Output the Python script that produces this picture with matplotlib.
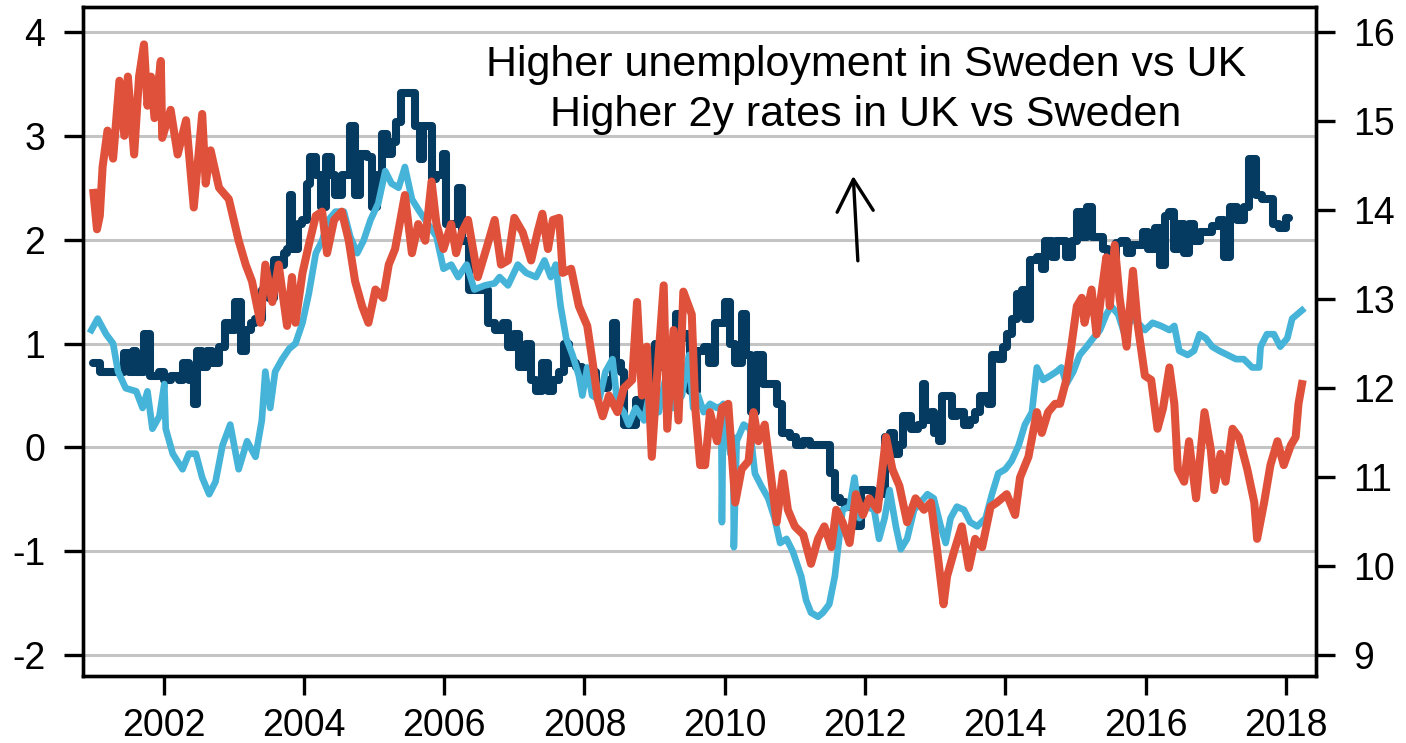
import matplotlib
matplotlib.use("Agg")
import matplotlib.pyplot as plt

# Unemployment gap (stepped, navy), left-axis units
navy_t = [2001.0, 2001.09, 2001.32, 2001.44, 2001.51, 2001.56, 2001.61, 2001.72, 2001.8, 2001.94,
          2002.01, 2002.1, 2002.22, 2002.27, 2002.36, 2002.43, 2002.48, 2002.55, 2002.62, 2002.69,
          2002.79, 2002.88, 2002.95, 2003.02, 2003.1, 2003.17, 2003.24, 2003.31, 2003.4, 2003.5,
          2003.57, 2003.64, 2003.71, 2003.76, 2003.8, 2003.83, 2003.91, 2003.98, 2004.05, 2004.09,
          2004.17, 2004.24, 2004.31, 2004.38, 2004.45, 2004.54, 2004.66, 2004.73, 2004.8, 2004.9,
          2004.97, 2005.04, 2005.11, 2005.18, 2005.25, 2005.32, 2005.39, 2005.54, 2005.58, 2005.65,
          2005.7, 2005.77, 2005.82, 2005.89, 2005.99, 2006.03, 2006.1, 2006.2, 2006.25, 2006.36,
          2006.53, 2006.62, 2006.72, 2006.84, 2006.91, 2007.0, 2007.07, 2007.17, 2007.24, 2007.31,
          2007.4, 2007.48, 2007.55, 2007.64, 2007.71, 2007.78, 2007.88, 2007.97, 2008.07, 2008.16,
          2008.26, 2008.33, 2008.4, 2008.45, 2008.52, 2008.56, 2008.68, 2008.73, 2008.82, 2008.92,
          2009.01, 2009.11, 2009.2, 2009.3, 2009.37, 2009.44, 2009.51, 2009.6, 2009.7, 2009.77,
          2009.86, 2009.93, 2010.0, 2010.08, 2010.15, 2010.24, 2010.31, 2010.38, 2010.45, 2010.55,
          2010.64, 2010.74, 2010.81, 2010.93, 2011.02, 2011.12, 2011.21, 2011.31, 2011.45, 2011.5,
          2011.57, 2011.64, 2011.71, 2011.78, 2011.87, 2011.94, 2012.04, 2012.11, 2012.2, 2012.28,
          2012.35, 2012.42, 2012.49, 2012.54, 2012.58, 2012.65, 2012.75, 2012.82, 2012.86, 2012.94,
          2012.98, 2013.05, 2013.1, 2013.17, 2013.24, 2013.31, 2013.41, 2013.5, 2013.57, 2013.64,
          2013.76, 2013.81, 2013.9, 2013.97, 2014.02, 2014.09, 2014.17, 2014.24, 2014.28, 2014.35,
          2014.45, 2014.52, 2014.57, 2014.66, 2014.73, 2014.83, 2014.87, 2014.95, 2015.02, 2015.09,
          2015.16, 2015.23, 2015.3, 2015.39, 2015.47, 2015.51, 2015.58, 2015.65, 2015.73, 2015.8,
          2015.89, 2015.96, 2016.03, 2016.13, 2016.2, 2016.27, 2016.34, 2016.41, 2016.48, 2016.55,
          2016.62, 2016.69, 2016.77, 2016.86, 2016.95, 2017.05, 2017.12, 2017.21, 2017.31, 2017.4,
          2017.47, 2017.57, 2017.66, 2017.76, 2017.81, 2017.9, 2018.0, 2018.05]
navy_v = [0.81, 0.73, 0.73, 0.91, 0.73, 0.93, 0.73, 1.09, 0.69, 0.73,
          0.65, 0.69, 0.65, 0.81, 0.65, 0.42, 0.93, 0.77, 0.93, 0.81,
          0.97, 1.2, 1.13, 1.4, 0.93, 1.13, 1.2, 1.24, 1.52, 1.44,
          1.8, 1.76, 1.87, 1.91, 2.43, 1.91, 2.15, 2.19, 2.54, 2.8,
          2.62, 2.31, 2.8, 2.62, 2.43, 2.62, 3.09, 2.43, 2.82, 2.8,
          2.31, 2.62, 3.02, 2.82, 2.94, 3.13, 3.41, 3.41, 3.09, 2.78,
          3.09, 3.09, 2.58, 2.62, 2.82, 2.15, 2.15, 2.5, 1.99, 1.52,
          1.52, 1.2, 1.13, 1.2, 0.97, 1.09, 0.77, 1.0, 0.65, 0.54,
          0.81, 0.54, 0.65, 0.73, 1.0, 0.81, 0.77, 0.65, 0.73, 0.57,
          0.57, 0.65, 1.2, 0.81, 0.73, 0.22, 0.22, 0.46, 0.34, 0.34,
          1.0, 0.77, 0.57, 1.28, 1.05, 1.09, 0.54, 0.93, 0.97, 0.81,
          1.2, 1.2, 1.4, 1.0, 0.81, 1.28, 0.89, 0.34, 0.89, 0.61,
          0.61, 0.42, 0.14, 0.1, 0.02, 0.06, 0.02, 0.02, 0.02, -0.25,
          -0.49, -0.53, -0.57, -0.53, -0.76, -0.41, -0.41, -0.49, -0.45, 0.1,
          0.14, -0.06, 0.02, 0.3, 0.3, 0.18, 0.22, 0.61, 0.26, 0.34,
          0.14, 0.06, 0.5, 0.5, 0.3, 0.34, 0.22, 0.26, 0.34, 0.5,
          0.42, 0.89, 0.85, 0.97, 1.09, 1.24, 1.48, 1.52, 1.24, 1.8,
          1.83, 1.72, 1.99, 1.83, 1.99, 1.99, 1.83, 1.99, 2.27, 2.03,
          2.31, 2.03, 2.03, 1.91, 1.76, 1.8, 1.97, 1.99, 1.87, 1.95,
          1.95, 2.07, 1.91, 2.11, 1.76, 2.23, 2.27, 1.91, 2.15, 1.87,
          2.15, 1.99, 2.07, 2.07, 2.13, 2.19, 1.83, 2.31, 2.19, 2.31,
          2.78, 2.43, 2.39, 2.39, 2.15, 2.11, 2.21, 2.21]

# Light blue series
blue_t = [2000.97, 2001.06, 2001.18, 2001.28, 2001.35, 2001.46, 2001.61, 2001.7, 2001.77, 2001.84,
          2001.94, 2002.01, 2002.03, 2002.13, 2002.27, 2002.36, 2002.46, 2002.55, 2002.65, 2002.74,
          2002.84, 2002.95, 2003.07, 2003.19, 2003.31, 2003.4, 2003.45, 2003.52, 2003.59, 2003.69,
          2003.79, 2003.88, 2003.98, 2004.07, 2004.17, 2004.26, 2004.35, 2004.45, 2004.57, 2004.66,
          2004.76, 2004.85, 2004.95, 2005.06, 2005.16, 2005.25, 2005.35, 2005.44, 2005.54, 2005.65,
          2005.77, 2005.89, 2005.99, 2006.1, 2006.2, 2006.32, 2006.43, 2006.58, 2006.72, 2006.79,
          2006.91, 2007.05, 2007.17, 2007.31, 2007.43, 2007.52, 2007.59, 2007.66, 2007.74, 2007.83,
          2007.92, 2007.97, 2008.04, 2008.11, 2008.21, 2008.3, 2008.4, 2008.47, 2008.56, 2008.63,
          2008.73, 2008.85, 2008.94, 2009.06, 2009.15, 2009.27, 2009.39, 2009.49, 2009.55, 2009.62,
          2009.7, 2009.79, 2009.89, 2009.95, 2009.96, 2009.98, 2010.08, 2010.12, 2010.13, 2010.17,
          2010.27, 2010.36, 2010.43, 2010.52, 2010.62, 2010.71, 2010.79, 2010.88, 2010.97, 2011.09,
          2011.16, 2011.23, 2011.33, 2011.4, 2011.49, 2011.57, 2011.61, 2011.68, 2011.78, 2011.85,
          2011.92, 2012.02, 2012.13, 2012.2, 2012.28, 2012.35, 2012.44, 2012.51, 2012.6, 2012.7,
          2012.79, 2012.89, 2012.98, 2013.08, 2013.15, 2013.22, 2013.31, 2013.41, 2013.5, 2013.6,
          2013.72, 2013.81, 2013.9, 2014.0, 2014.09, 2014.19, 2014.28, 2014.38, 2014.45, 2014.54,
          2014.64, 2014.73, 2014.8, 2014.87, 2014.97, 2015.06, 2015.16, 2015.25, 2015.35, 2015.44,
          2015.51, 2015.61, 2015.7, 2015.8, 2015.89, 2015.99, 2016.1, 2016.22, 2016.34, 2016.41,
          2016.48, 2016.6, 2016.69, 2016.77, 2016.86, 2016.95, 2017.05, 2017.17, 2017.29, 2017.4,
          2017.52, 2017.62, 2017.64, 2017.73, 2017.83, 2017.92, 2018.02, 2018.09, 2018.16, 2018.23]
blue_v = [1.13, 1.24, 1.09, 1.0, 0.73, 0.57, 0.54, 0.38, 0.54, 0.18,
          0.3, 0.61, 0.18, -0.06, -0.21, -0.06, -0.06, -0.29, -0.45, -0.33,
          0.02, 0.22, -0.21, 0.06, -0.09, 0.26, 0.73, 0.38, 0.73, 0.85,
          0.95, 1.0, 1.2, 1.48, 1.87, 1.99, 2.19, 2.27, 2.27, 2.03,
          1.87, 1.99, 2.19, 2.35, 2.66, 2.54, 2.5, 2.7, 2.39, 2.27,
          2.15, 2.03, 1.72, 1.76, 1.64, 1.76, 1.52, 1.56, 1.58, 1.64,
          1.56, 1.76, 1.68, 1.64, 1.8, 1.64, 1.76, 1.36, 1.05, 0.89,
          0.69, 0.5, 0.77, 0.5, 0.46, 0.73, 0.85, 0.42, 0.34, 0.22,
          0.38, 0.26, 0.57, 0.34, 0.65, 0.38, 0.5, 0.89, 0.38, 0.5,
          0.34, 0.42, 0.38, 0.4, -0.72, 0.42, -0.06, 0.1, -0.96, 0.06,
          0.22, 0.18, -0.25, -0.37, -0.49, -0.68, -0.92, -0.88, -1.0, -1.24,
          -1.47, -1.59, -1.63, -1.59, -1.51, -1.24, -1.0, -0.6, -0.57, -0.29,
          -0.68, -0.57, -0.6, -0.88, -0.68, -0.41, -0.76, -0.98, -0.88, -0.6,
          -0.53, -0.45, -0.49, -0.76, -0.92, -0.68, -0.57, -0.6, -0.72, -0.76,
          -0.68, -0.45, -0.25, -0.21, -0.13, 0.02, 0.22, 0.34, 0.77, 0.65,
          0.69, 0.73, 0.77, 0.61, 0.73, 0.89, 0.97, 1.05, 1.13, 1.28,
          1.36, 1.28, 1.09, 1.24, 1.2, 1.13, 1.2, 1.17, 1.13, 1.17,
          0.93, 0.89, 0.93, 1.09, 1.05, 0.97, 0.93, 0.89, 0.85, 0.85,
          0.77, 0.77, 0.97, 1.09, 1.09, 0.97, 1.05, 1.24, 1.28, 1.32]

# Red series (2y rate gap)
red_t = [2001.0, 2001.05, 2001.09, 2001.13, 2001.2, 2001.28, 2001.37, 2001.44, 2001.49, 2001.58,
         2001.65, 2001.72, 2001.77, 2001.82, 2001.87, 2001.96, 2001.98, 2002.1, 2002.2, 2002.32,
         2002.43, 2002.55, 2002.6, 2002.67, 2002.79, 2002.93, 2003.07, 2003.17, 2003.26, 2003.38,
         2003.45, 2003.55, 2003.64, 2003.76, 2003.83, 2003.88, 2003.98, 2004.07, 2004.17, 2004.26,
         2004.33, 2004.43, 2004.54, 2004.64, 2004.73, 2004.83, 2004.92, 2005.02, 2005.13, 2005.21,
         2005.3, 2005.44, 2005.54, 2005.63, 2005.73, 2005.82, 2005.89, 2005.99, 2006.1, 2006.17,
         2006.25, 2006.34, 2006.48, 2006.6, 2006.72, 2006.81, 2006.91, 2007.0, 2007.12, 2007.24,
         2007.33, 2007.4, 2007.48, 2007.55, 2007.64, 2007.69, 2007.81, 2007.92, 2008.04, 2008.11,
         2008.19, 2008.26, 2008.35, 2008.47, 2008.56, 2008.68, 2008.75, 2008.82, 2008.89, 2008.96,
         2009.04, 2009.13, 2009.18, 2009.27, 2009.34, 2009.41, 2009.53, 2009.58, 2009.65, 2009.72,
         2009.79, 2009.89, 2009.96, 2010.05, 2010.15, 2010.24, 2010.34, 2010.41, 2010.48, 2010.57,
         2010.64, 2010.74, 2010.83, 2010.9, 2011.0, 2011.12, 2011.23, 2011.33, 2011.42, 2011.52,
         2011.59, 2011.68, 2011.78, 2011.87, 2011.97, 2012.06, 2012.18, 2012.3, 2012.39, 2012.49,
         2012.6, 2012.72, 2012.84, 2012.94, 2013.03, 2013.12, 2013.17, 2013.27, 2013.38, 2013.48,
         2013.57, 2013.67, 2013.79, 2013.88, 2014.02, 2014.14, 2014.21, 2014.33, 2014.45, 2014.52,
         2014.61, 2014.71, 2014.78, 2014.87, 2014.94, 2015.02, 2015.09, 2015.13, 2015.23, 2015.3,
         2015.37, 2015.44, 2015.49, 2015.56, 2015.63, 2015.73, 2015.82, 2015.89, 2015.99, 2016.08,
         2016.17, 2016.25, 2016.34, 2016.41, 2016.46, 2016.55, 2016.62, 2016.72, 2016.84, 2016.93,
         2016.98, 2017.07, 2017.14, 2017.24, 2017.33, 2017.45, 2017.55, 2017.59, 2017.69, 2017.78,
         2017.88, 2017.97, 2018.07, 2018.14, 2018.18, 2018.23]
red_v = [2.45, 2.1, 2.23, 2.7, 3.05, 2.78, 3.53, 3.0, 3.57, 2.82,
         3.57, 3.88, 3.29, 3.57, 3.17, 3.72, 2.98, 3.25, 2.82, 3.15,
         2.31, 3.21, 2.54, 2.86, 2.5, 2.39, 1.99, 1.76, 1.6, 1.2,
         1.76, 1.4, 1.76, 1.17, 1.64, 1.2, 1.68, 1.95, 2.23, 2.27,
         1.87, 2.19, 2.27, 1.99, 1.6, 1.36, 1.2, 1.52, 1.44, 1.76,
         1.91, 2.43, 1.87, 2.15, 1.99, 2.56, 2.15, 1.91, 2.15, 1.87,
         2.07, 2.19, 1.64, 1.91, 2.19, 1.76, 1.8, 2.21, 2.07, 1.8,
         2.07, 2.25, 1.91, 2.19, 2.21, 1.68, 1.72, 1.36, 1.17, 0.85,
         0.46, 0.3, 0.5, 0.34, 0.57, 0.65, 1.4, 0.5, 0.97, -0.09,
         0.73, 1.56, 0.18, 1.13, 0.26, 1.5, 1.28, 0.38, -0.17, -0.17,
         0.34, 0.06, 0.38, 0.42, -0.53, -0.21, -0.13, 0.34, 0.06, 0.22,
         -0.17, -0.72, -0.25, -0.6, -0.76, -0.84, -1.12, -0.88, -0.76, -0.96,
         -0.6, -0.72, -0.92, -0.45, -0.65, -0.49, -0.6, 0.1, -0.21, -0.37,
         -0.72, -0.49, -0.6, -0.53, -1.0, -1.51, -1.24, -1.0, -0.76, -1.16,
         -0.88, -0.96, -0.57, -0.53, -0.45, -0.65, -0.29, -0.09, 0.34, 0.14,
         0.34, 0.42, 0.42, 0.65, 0.97, 1.36, 1.44, 1.2, 1.52, 1.09,
         1.48, 1.83, 1.36, 1.95, 1.44, 0.97, 1.7, 1.17, 0.69, 0.65,
         0.18, 0.38, 0.77, 0.42, -0.21, -0.33, 0.06, -0.49, 0.34, -0.02,
         -0.41, -0.06, -0.33, 0.18, 0.1, -0.21, -0.53, -0.88, -0.53, -0.17,
         0.06, -0.17, 0.02, 0.1, 0.42, 0.61]

left_ticks = [-2, -1, 0, 1, 2, 3, 4]
right_ticks = [9, 10, 11, 12, 13, 14, 15, 16]
year_ticks = [2002, 2004, 2006, 2008, 2010, 2012, 2014, 2016, 2018]
note_lines = ["Higher unemployment in Sweden vs UK", "Higher 2y rates in UK vs Sweden"]

NAVY = "#053a61"
LIGHT = "#45b4d8"
RED = "#e0513b"
GRID = "#c4c4c4"

plt.rcParams["font.family"] = ["Liberation Sans", "DejaVu Sans"]

fig = plt.figure(figsize=(14.06, 7.43), dpi=100)
ax = fig.add_axes([0.059, 0.0902, 0.877, 0.9004])

ax.plot(navy_t, navy_v, color=NAVY, lw=5.8, drawstyle="steps-post",
        solid_joinstyle="round", solid_capstyle="round", zorder=3)
ax.plot(blue_t, blue_v, color=LIGHT, lw=4.8, zorder=4)
ax.plot(red_t, red_v, color=RED, lw=5.8, zorder=5)

ax.set_xlim(2000.85, 2018.43)
ax.set_ylim(-2.2, 4.24)
ax.set_yticks(left_ticks)
ax.set_yticklabels([str(t) for t in left_ticks])
ax.set_xticks(year_ticks)
ax.set_xticklabels([str(t) for t in year_ticks])
for t in left_ticks:
    ax.axhline(t, color=GRID, lw=2.2, zorder=1)

ax2 = ax.twinx()
ax2.set_ylim(9 + (-2.2 + 2) * 7 / 6, 9 + (4.24 + 2) * 7 / 6)
ax2.set_yticks(right_ticks)
ax2.set_yticklabels([str(t) for t in right_ticks])

for a in (ax, ax2):
    for s in a.spines.values():
        s.set_linewidth(2.4)
        s.set_color("black")
    a.tick_params(axis="both", length=14, width=2.4, labelsize=27, pad=13, color="black")
ax.tick_params(axis="x", pad=9)

ax.text(2012.01, 3.68, note_lines[0], ha="center", va="center", fontsize=31, zorder=6)
ax.text(2012.01, 3.2, note_lines[1], ha="center", va="center", fontsize=31, zorder=6)
ax.annotate("", xy=(2011.83, 2.64), xytext=(2011.9, 1.77),
            arrowprops=dict(arrowstyle="->,head_length=2.3,head_width=1.3", lw=2.4, color="black"))

fig.savefig("out.png", dpi=100)
